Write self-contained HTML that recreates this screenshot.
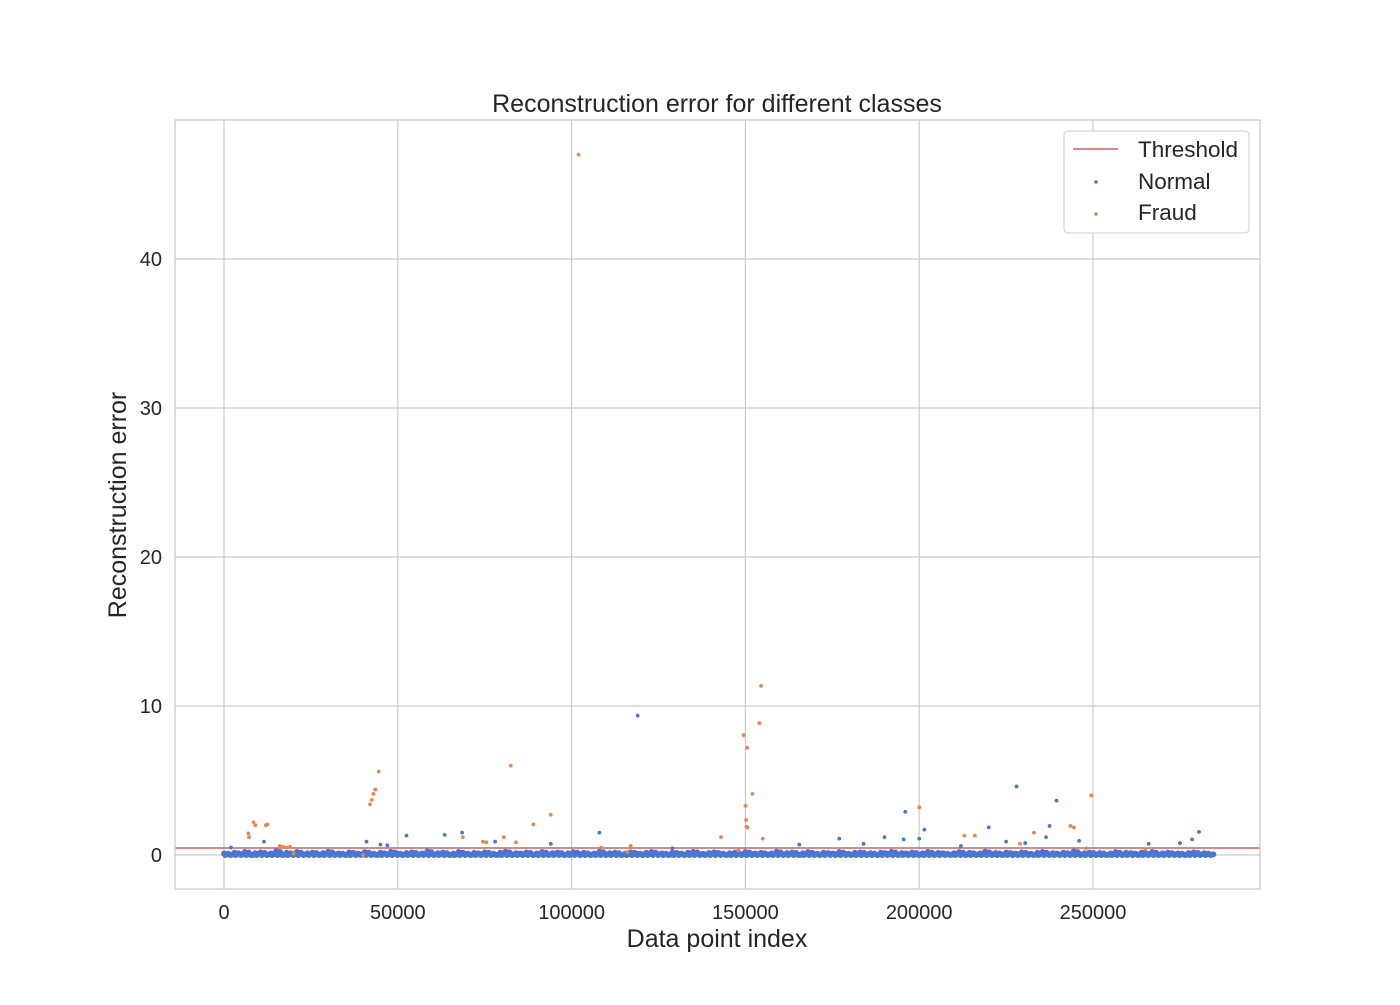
<!DOCTYPE html>
<html><head><meta charset="utf-8">
<style>
body{margin:0;background:#fff;font-family:"Liberation Sans",sans-serif;}
svg text{font-family:"Liberation Sans",sans-serif;fill:#262626;}
</style></head>
<body>
<svg id="chart" width="1400" height="1000" xmlns="http://www.w3.org/2000/svg">
<rect x="0" y="0" width="1400" height="1000" fill="#fff"/>
<g id="grid"></g>
<g id="marks"></g>
<rect x="175" y="120" width="1085" height="769" fill="none" stroke="#ccc" stroke-width="1.3"/>
<text x="717" y="112" font-size="25" text-anchor="middle">Reconstruction error for different classes</text>
<text x="717" y="947" font-size="25" text-anchor="middle">Data point index</text>
<text x="0" y="0" font-size="25" text-anchor="middle" transform="translate(126,505) rotate(-90)">Reconstruction error</text>
<g>
<rect x="1064" y="131" width="185" height="102" rx="4" fill="#fff" stroke="#ccc"/>
<line x1="1073" y1="149" x2="1118" y2="149" stroke="#d65f5f" stroke-width="1.5"/>
<text x="1138" y="157" font-size="22.5">Threshold</text>
<circle cx="1096" cy="182" r="1.8" fill="#4878d0"/>
<text x="1138" y="189" font-size="22.5">Normal</text>
<circle cx="1096" cy="214" r="1.8" fill="#ee854a"/>
<text x="1138" y="220" font-size="22.5">Fraud</text>
</g>
</svg>
<script>
const xTicks=[0,50000,100000,150000,200000,250000];
const yTicks=[0,10,20,30,40];
const threshold=0.47;
const bandValues=[0.1,0.05,0.15,0.08,0.2,0.03,0.12,0.18,0.06,0.1,0.25,0.04,0.14,0.09,0.2,0.07,0.11,0.16,0.05,0.13,0.22,0.08,0.1,0.03,0.17,0.12,0.06,0.19,0.1,0.04,0.15,0.08,0.21,0.11,0.05,0.13,0.18,0.07,0.1,0.24,0.06,0.12,0.16,0.04,0.09,0.2,0.11,0.05,0.14,0.08,0.18,0.1,0.03,0.15,0.22,0.07,0.12,0.09,0.17,0.05,0.1,0.2,0.06,0.13,0.16,0.04,0.11,0.19,0.08,0.14,0.05,0.1,0.23,0.07,0.12,0.15,0.03,0.09,0.18,0.11,0.06,0.14,0.2,0.08,0.1,0.04,0.17,0.12,0.05,0.15,0.21,0.09,0.07,0.13,0.18,0.1,0.04,0.12,0.16,0.06,0.2,0.11,0.08,0.14,0.05,0.1,0.22,0.07,0.13,0.17,0.03,0.11,0.19,0.09,0.06,0.15,0.12,0.08,0.2,0.1,0.05,0.14,0.18,0.07,0.12,0.04,0.16,0.1,0.21,0.06,0.13,0.09,0.17,0.05,0.11,0.2,0.08,0.14,0.1,0.04,0.12,0.19,0.07,0.15,0.06,0.1,0.22,0.09,0.13,0.05,0.16,0.11,0.08,0.18,0.1,0.04,0.14,0.2,0.07,0.12,0.06,0.15,0.1,0.24,0.05,0.11,0.17,0.08,0.13,0.03,0.1,0.19,0.07,0.14,0.12,0.05,0.16,0.09,0.2,0.06,0.11,0.15,0.08,0.1,0.04,0.13,0.18,0.07,0.12,0.05];
const bandStep=1500;
const normalX=[119000,228000,239500,196000,201500,220000,237500,236500,108000,68500,63500,52500,41000,177000,190000,195500,200000,246000,280500,278500,275000,184000,225000,230500,78000,11500,94000,165500,266000,45000,129000,2000,47000,212000];
const normalY=[9.35,4.6,3.65,2.9,1.7,1.85,1.95,1.2,1.5,1.5,1.35,1.3,0.9,1.1,1.2,1.05,1.1,0.95,1.55,1.05,0.8,0.75,0.9,0.8,0.9,0.9,0.75,0.7,0.75,0.7,0.45,0.5,0.65,0.6];
const fraudX=[102000,154500,154000,149500,150500,82500,44500,152000,249500,43500,43000,42500,42000,150000,200000,94000,150200,8500,9000,12000,12500,89000,150300,150600,243500,244500,7000,7200,233000,213000,216000,80500,143000,155000,68700,74500,75500,84000,16000,17000,18000,19000,108500,117000,148000,229000,265000,40000,20000,116000,248000];
const fraudY=[47,11.35,8.85,8.05,7.2,6.0,5.6,4.1,4.0,4.4,4.1,3.7,3.4,3.3,3.2,2.7,2.35,2.2,2.0,2.0,2.05,2.05,1.9,1.85,1.95,1.85,1.45,1.2,1.5,1.3,1.3,1.2,1.2,1.1,1.2,0.9,0.85,0.85,0.6,0.55,0.5,0.55,0.5,0.6,0.3,0.75,0.4,0.0,0.1,0.2,0.45];
const NS="http://www.w3.org/2000/svg";
const X0=175,X1=1260,Y0=120,Y1=889;
const xScale=v=>224+v*(1093-224)/250000;
const yScale=v=>855-v*(855-259)/40;
const grid=document.getElementById('grid'),marks=document.getElementById('marks'),svg=document.getElementById('chart');
function mk(tag,attrs,parent){const e=document.createElementNS(NS,tag);for(const k in attrs)e.setAttribute(k,attrs[k]);parent.appendChild(e);return e;}
xTicks.forEach(t=>{const x=xScale(t);
const l=mk('line',{x1:x,x2:x,y1:Y0,y2:Y1,stroke:'#ccc','stroke-width':1.2},grid);


const tx=mk('text',{x:x,y:919,'font-size':20,'text-anchor':'middle'},svg);tx.textContent=t;

});
yTicks.forEach(t=>{const y=yScale(t);
const l=mk('line',{x1:X0,x2:X1,y1:y,y2:y,stroke:'#ccc','stroke-width':1.2},grid);


const tx=mk('text',{x:162,y:y+7,'font-size':20,'text-anchor':'end'},svg);tx.textContent=t;

});
const th=mk('line',{x1:X0,x2:X1,y1:yScale(threshold),y2:yScale(threshold),stroke:'#d65f5f','stroke-width':1.5},marks);


bandValues.forEach((v,i)=>{
[[0,1],[375,0],[750,0.5],[1125,0.8]].forEach(([off,f])=>{
const c=mk('circle',{cx:xScale(i*bandStep+off),cy:yScale(v*f),r:3,fill:'#4878d0'},marks);

});});
normalX.forEach((x,i)=>{const c=mk('circle',{cx:xScale(x),cy:yScale(normalY[i]),r:1.9,fill:'#4878d0'},marks);

});
fraudX.forEach((x,i)=>{const c=mk('circle',{cx:xScale(x),cy:yScale(fraudY[i]),r:1.9,fill:'#ee854a'},marks);

});
</script>
</body></html>
